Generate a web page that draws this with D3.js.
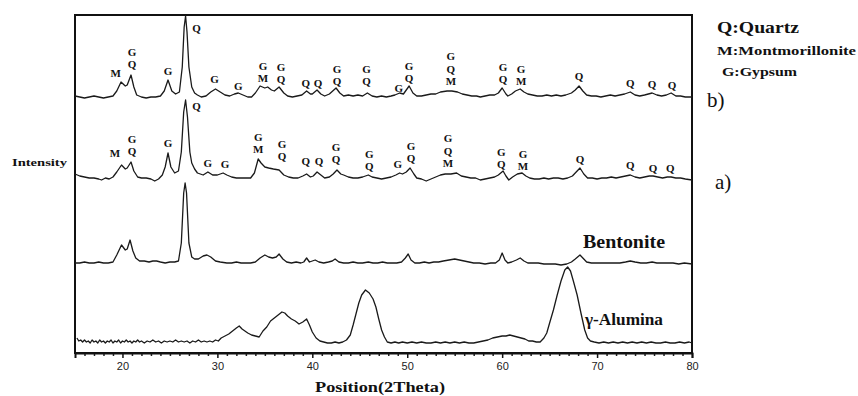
<!DOCTYPE html>
<html>
<head>
<meta charset="utf-8">
<script src="https://cdn.jsdelivr.net/npm/d3@7"></script>
<style>
  body { margin: 0; background: #fff; }
  svg { display: block; }
  .tick text { font-family: "Liberation Sans", Arial, sans-serif; font-size: 11px; fill: #222; }
  .lbl { font-family: "Liberation Serif", "Times New Roman", serif; font-weight: bold; fill: #111; }
</style>
</head>
<body>
<div id="chart"></div>
<script>
// 2theta range and tick labels
var xDomain = [15, 80];
var xTicks = [20, 30, 40, 50, 60, 70, 80];

// pattern names, bottom to top, and their stacking offsets (a.u.)
var patterns = ['alumina', 'bentonite', 'a', 'b'];
var offsets = [10, 90, 176, 256];

// [2theta, intensity above baseline]
var alumina = [[15.2,5],[15.4,2],[15.6,3],[15.8,1],[16.0,3],[16.2,1],[16.4,2],[16.6,0],[16.8,3],[17.0,1],[17.2,2],[17.4,0],[17.6,3],[17.8,1],[18.0,2],[18.2,0],[18.4,2],[18.6,1],[18.8,3],[19.0,0],[19.2,2],[19.4,1],[19.6,3],[19.8,0],[20.0,2],[20.2,1],[20.4,3],[20.6,1],[20.8,2],[21.0,0],[21.2,2],[21.4,1],[21.6,3],[21.8,1],[22.0,2],[22.3,0],[22.6,2],[22.9,1],[23.2,3],[23.5,1],[23.8,2],[24.1,0],[24.4,2],[24.7,1],[25.0,2],[25.3,1],[25.6,3],[25.9,1],[26.2,2],[26.5,1],[26.8,2],[27.1,0],[27.4,2],[27.7,1],[28.0,3],[28.3,1],[28.6,2],[28.9,1],[29.2,2],[29.5,1],[29.8,3],[30.1,2],[30.4,5],[30.8,7],[31.2,9],[31.6,12],[32.0,15],[32.3,17],[32.6,14],[32.9,12],[33.2,10],[33.6,8],[34.0,7],[34.4,6],[34.8,12],[35.2,16],[35.6,22],[36.0,25],[36.4,28],[36.8,31],[37.1,30],[37.4,27],[37.8,24],[38.2,22],[38.6,19],[39.0,21],[39.4,24],[39.7,18],[40.0,11],[40.4,5],[40.8,2],[41.2,1],[41.6,0],[42.0,0],[42.4,1],[42.8,0],[43.2,1],[43.6,3],[44.0,8],[44.3,18],[44.6,29],[44.9,40],[45.2,48],[45.6,53],[46.0,50],[46.4,44],[46.7,36],[47.0,24],[47.3,13],[47.6,6],[47.9,1],[48.3,0],[48.7,1],[49.1,0],[49.5,1],[50.0,0],[50.5,1],[51.0,0],[51.5,1],[52.0,0],[52.5,0],[53.0,1],[53.5,0],[54.0,1],[54.5,0],[55.0,1],[55.5,0],[56.0,1],[56.5,0],[57.0,0],[57.5,1],[58.0,2],[58.5,3],[59.0,5],[59.5,6],[60.0,7],[60.4,7],[60.8,8],[61.2,7],[61.6,6],[62.0,5],[62.4,4],[62.8,2],[63.2,2],[63.6,1],[64.0,1],[64.4,5],[64.7,10],[65.0,20],[65.4,33],[65.8,48],[66.2,62],[66.6,73],[66.9,76],[67.2,72],[67.5,62],[67.9,48],[68.3,30],[68.7,13],[69.0,5],[69.3,2],[69.7,1],[70.2,0],[70.7,1],[71.2,0],[71.7,1],[72.2,0],[72.7,1],[73.2,0],[73.7,1],[74.2,0],[74.7,1],[75.2,0],[75.7,1],[76.2,0],[76.7,0],[77.2,1],[77.7,0],[78.2,0],[78.7,1],[79.2,0],[79.7,1],[80.0,0]];

var bentonite = [[15.0,0],[15.5,0],[16.0,1],[16.5,0],[17.0,0],[17.5,1],[18.0,0],[18.5,0],[19.0,1],[19.4,8],[19.9,18],[20.3,13],[20.5,14],[20.8,23],[21.1,12],[21.4,5],[21.8,2],[22.3,2],[22.8,1],[23.2,2],[23.6,2],[24.0,1],[24.5,0],[25.0,1],[25.5,1],[25.9,2],[26.2,20],[26.45,70],[26.6,80],[26.75,70],[27.0,20],[27.3,6],[27.6,4],[28.0,4],[28.5,7],[28.9,8],[29.3,6],[29.8,2],[30.3,1],[31.0,0],[31.5,0],[32.0,1],[32.5,0],[33.0,0],[33.5,0],[34.0,1],[34.5,5],[35.0,8],[35.4,6],[35.8,5],[36.2,6],[36.5,9],[36.9,4],[37.3,1],[37.8,0],[38.3,1],[38.8,0],[39.1,1],[39.4,5],[39.7,1],[40.0,2],[40.3,3],[40.7,1],[41.2,0],[41.7,1],[42.1,2],[42.4,4],[42.8,1],[43.3,0],[43.8,0],[44.3,1],[44.8,0],[45.3,0],[45.9,1],[46.4,0],[46.9,0],[47.4,1],[47.9,0],[48.4,0],[48.9,0],[49.4,1],[49.8,5],[50.1,9],[50.4,3],[50.8,0],[51.3,0],[51.8,1],[52.3,0],[52.8,1],[53.3,1],[53.8,2],[54.4,3],[55.0,4],[55.5,3],[56.0,2],[56.5,1],[57.0,0],[57.6,0],[58.2,-1],[58.8,0],[59.3,0],[59.7,3],[60.0,10],[60.3,3],[60.6,0],[61.0,1],[61.5,3],[61.9,5],[62.3,2],[62.7,0],[63.2,0],[63.8,0],[64.4,-1],[65.0,-1],[65.6,-1],[66.2,-2],[66.8,-1],[67.3,1],[67.7,4],[68.2,8],[68.6,4],[68.9,1],[69.4,0],[70.0,0],[70.6,0],[71.2,0],[71.8,0],[72.4,0],[73.0,1],[73.5,2],[74.0,1],[74.6,0],[75.2,0],[75.8,1],[76.3,0],[76.9,0],[77.5,0],[78.0,0],[78.6,-1],[79.2,0],[80.0,-1]];

var sampleA = [[15.0,3],[15.5,1],[16.0,0],[16.5,-1],[17.0,-1],[17.5,-2],[17.8,-3],[18.2,-1],[18.6,-2],[19.0,0],[19.4,5],[19.9,12],[20.3,8],[20.5,9],[20.9,15],[21.2,6],[21.6,0],[22.0,-1],[22.5,-1],[23.0,-2],[23.4,-4],[23.8,-2],[24.2,2],[24.5,10],[24.8,24],[25.1,10],[25.5,4],[25.9,6],[26.2,25],[26.45,65],[26.65,77],[26.85,60],[27.1,25],[27.3,14],[27.6,8],[27.9,4],[28.5,2],[29.0,5],[29.5,2],[30.0,2],[30.6,4],[31.0,2],[31.5,0],[32.0,-1],[32.5,-1],[33.0,-1],[33.5,-1],[33.9,4],[34.3,18],[34.6,14],[35.0,10],[35.4,9],[35.9,8],[36.5,7],[37.0,2],[37.5,0],[38.0,-1],[38.5,-1],[39.0,1],[39.4,3],[39.8,0],[40.1,1],[40.5,5],[40.9,2],[41.3,-1],[41.8,0],[42.2,3],[42.6,7],[43.0,3],[43.3,2],[43.8,0],[44.3,-1],[44.8,-1],[45.3,0],[45.9,2],[46.3,0],[46.8,-1],[47.3,-2],[47.8,-1],[48.3,0],[48.8,2],[49.2,4],[49.5,3],[49.9,5],[50.3,9],[50.7,3],[51.0,-1],[51.5,-2],[52.0,-4],[52.5,-2],[53.0,0],[53.5,2],[54.0,3],[54.6,3],[55.2,4],[55.7,1],[56.2,0],[56.7,-1],[57.2,-1],[57.7,-3],[58.2,-2],[58.7,-1],[59.2,0],[59.6,2],[60.1,6],[60.4,1],[60.7,-3],[61.1,0],[61.6,3],[62.1,4],[62.5,1],[62.9,-1],[63.4,-2],[63.9,-2],[64.4,-1],[64.9,-2],[65.4,-1],[65.9,-1],[66.4,-2],[66.9,-1],[67.4,1],[67.8,5],[68.2,9],[68.6,3],[69.0,-1],[69.5,-1],[70.0,-2],[70.5,-1],[71.0,-1],[71.5,0],[72.0,-1],[72.5,0],[73.0,1],[73.5,2],[74.0,0],[74.5,-1],[75.0,0],[75.5,1],[75.9,1],[76.4,0],[76.9,-1],[77.4,0],[77.8,0],[78.3,-1],[78.8,-1],[79.3,-2],[80.0,-3]];

var sampleB = [[15.0,1],[15.5,0],[16.0,-1],[16.5,0],[17.0,1],[17.5,0],[18.0,-1],[18.5,0],[19.0,1],[19.4,6],[19.85,15],[20.3,11],[20.5,12],[20.9,22],[21.2,10],[21.5,2],[22.0,0],[22.5,-1],[23.0,0],[23.5,0],[24.0,1],[24.4,6],[24.8,17],[25.2,6],[25.6,3],[26.0,5],[26.3,30],[26.5,70],[26.65,81],[26.8,65],[27.0,30],[27.3,10],[27.6,4],[27.9,2],[28.3,0],[28.8,1],[29.3,5],[29.8,8],[30.3,5],[30.8,2],[31.3,1],[31.8,3],[32.2,4],[32.7,2],[33.2,0],[33.6,0],[34.0,4],[34.5,11],[35.0,9],[35.3,10],[35.7,7],[36.0,6],[36.5,10],[37.0,4],[37.4,1],[37.9,0],[38.4,1],[38.9,2],[39.4,6],[39.8,3],[40.0,3],[40.5,7],[40.9,3],[41.3,1],[41.8,3],[42.5,9],[42.9,4],[43.3,1],[43.8,2],[44.3,1],[44.8,2],[45.3,1],[45.8,4],[46.3,1],[46.8,0],[47.3,1],[47.8,0],[48.3,1],[48.7,2],[49.2,4],[49.6,3],[50.2,11],[50.6,4],[51.0,1],[51.5,1],[52.0,2],[52.5,3],[53.0,3],[53.5,5],[54.2,6],[54.7,6],[55.3,5],[55.8,3],[56.3,2],[56.8,1],[57.3,1],[57.7,0],[58.2,1],[58.7,2],[59.2,2],[59.6,4],[60.0,9],[60.4,3],[60.6,1],[61.0,3],[61.4,6],[61.9,8],[62.3,5],[62.7,3],[63.2,2],[63.7,1],[64.2,1],[64.7,2],[65.2,1],[65.7,2],[66.2,1],[66.7,2],[67.3,4],[67.7,7],[68.1,11],[68.5,6],[68.9,2],[69.4,1],[69.9,1],[70.4,0],[70.9,1],[71.4,2],[71.9,1],[72.4,2],[72.9,3],[73.5,5],[74.0,2],[74.5,1],[75.0,2],[75.4,3],[75.8,4],[76.3,2],[76.8,1],[77.3,2],[77.8,4],[78.3,1],[78.8,1],[79.3,0],[80.0,0]];

// phase marks: [2theta, letters top->bottom, level of lowest letter above baseline]
var marksA = [[19.2,'M',20],[21.0,'GQ',22],[24.8,'G',30],[27.8,'Q',67],[29.0,'G',10],[30.8,'G',9],[34.3,'GM',24],[36.8,'GQ',17],[39.3,'Q',12],[40.7,'Q',12],[42.5,'GQ',14],[46.0,'GQ',7],[49.0,'G',9],[50.4,'GQ',15],[54.3,'GQM',10],[59.9,'GQ',9],[62.2,'GM',7],[68.2,'Q',14],[73.5,'Q',8],[75.9,'Q',5],[77.7,'Q',5]];
var marksB = [[19.3,'M',20],[21.0,'GQ',29],[24.8,'G',22],[27.8,'Q',65],[29.7,'G',14],[32.2,'G',7],[34.8,'GM',15],[36.7,'GQ',14],[39.3,'Q',10],[40.6,'Q',10],[42.6,'GQ',12],[45.7,'GQ',12],[49.1,'G',5],[50.2,'GQ',15],[54.6,'GQM',12],[60.1,'GQ',14],[62.0,'GM',12],[68.1,'Q',17],[73.5,'Q',10],[75.8,'Q',9],[77.9,'Q',8]];

var series = [alumina, bentonite, sampleA, sampleB];
var marks = [null, null, marksA, marksB];

var width = 858, height = 396;
var margin = {left: 75, right: 166, top: 15, bottom: 43};
var letterStep = 12.5;

var svg = d3.select('#chart').append('svg')
	.attr('width', width)
	.attr('height', height)
	.style('background-color', '#fff');

var x = d3.scaleLinear().domain(xDomain).range([margin.left, width - margin.right]);
var y = d3.scaleLinear().domain([0, height - margin.top - margin.bottom]).range([height - margin.bottom, margin.top]);

// frame
svg.append('rect')
	.attr('x', margin.left)
	.attr('y', margin.top)
	.attr('width', x(xDomain[1]) - x(xDomain[0]))
	.attr('height', y(0) - margin.top)
	.attr('fill', 'none')
	.attr('stroke', '#111')
	.attr('stroke-width', 2);

// bottom axis, minor ticks every degree
var minor = d3.range(16, 80, 1).filter(function(d) { return d % 10 !== 0; });
svg.append('g')
	.attr('transform', 'translate(0,' + y(0) + ')')
	.call(d3.axisBottom(x).tickValues(minor).tickSize(3).tickFormat(''))
	.call(function(g) { g.select('.domain').remove(); })
	.selectAll('line').attr('stroke', '#222').attr('stroke-width', 1.5);

var xAxis = svg.append('g')
	.attr('transform', 'translate(0,' + y(0) + ')')
	.call(d3.axisBottom(x).tickValues(xTicks).tickSize(5).tickPadding(4).tickFormat(d3.format('d')));
xAxis.select('.domain').attr('stroke', '#111').attr('stroke-width', 2);
xAxis.selectAll('line').attr('stroke', '#111').attr('stroke-width', 1.5);

var line = d3.line()
	.x(function(d) { return x(d[0]); })
	.y(function(d) { return y(d[1]); });

series.forEach(function(s, i) {
	var off = offsets[i];
	svg.append('path')
		.datum(s.map(function(d) { return [d[0], d[1] + off]; }))
		.attr('class', 'pattern ' + patterns[i])
		.attr('fill', 'none')
		.attr('stroke', '#1a1a1a')
		.attr('stroke-width', 1.3)
		.attr('stroke-linejoin', 'round')
		.attr('d', line);

	if (marks[i]) {
		// one text per stack, letters as tspans
		svg.append('g').selectAll('text')
			.data(marks[i])
			.enter()
			.append('text')
			.attr('class', 'lbl')
			.attr('text-anchor', 'middle')
			.style('font-size', '11px')
			.each(function(m) {
				var t = d3.select(this);
				var letters = m[1].split('');
				var px = x(m[0]);
				var top = y(m[2] + off) - (letters.length - 1) * letterStep;
				letters.forEach(function(ch, k) {
					t.append('tspan')
						.attr('x', px)
						.attr('y', top + k * letterStep)
						.text(ch);
				});
			});
	}
});

// texts
function label(txt, px, py, size, len, bold) {
	var t = svg.append('text')
		.attr('x', px).attr('y', py)
		.style('font-family', '"Liberation Serif", "Times New Roman", serif')
		.style('font-size', size + 'px')
		.style('font-weight', bold ? 'bold' : 'normal')
		.attr('fill', '#111')
		.text(txt);
	if (len) t.attr('textLength', len).attr('lengthAdjust', 'spacingAndGlyphs');
	return t;
}

label('Bentonite', 583, 248, 18, 82, true);
label('\u03b3-Alumina', 585, 325, 16, 78, true);
label('Intensity', 12, 166, 11, 55, true);
label('Q:Quartz', 717, 33, 16, 82, true);
label('M:Montmorillonite', 717, 55, 13, 139, true);
label('G:Gypsum', 722, 76, 13, 75, true);
label('b)', 707, 107, 21, null, false);
label('a)', 715, 189, 21, null, false);
label('Position(2Theta)', 315, 392, 15, 130, true);
</script>
</body>
</html>
